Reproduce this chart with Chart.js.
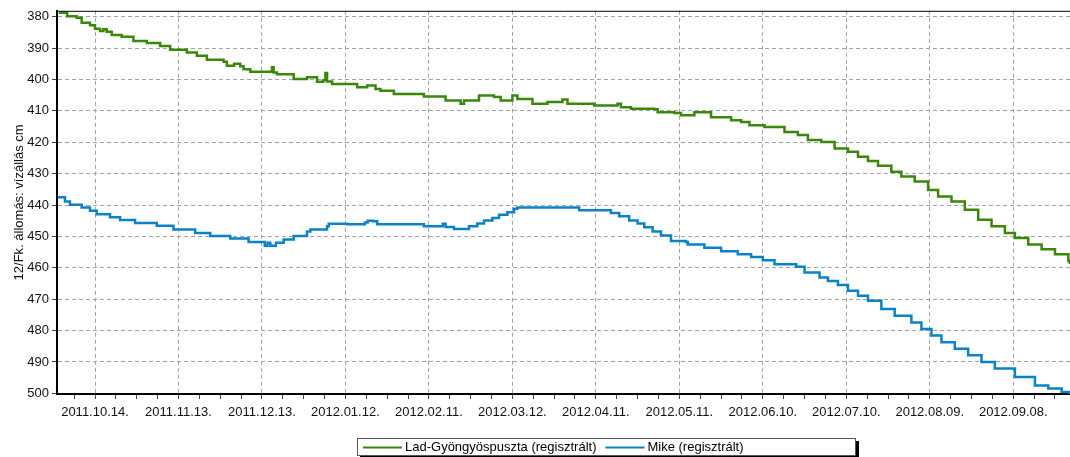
<!DOCTYPE html>
<html>
<head>
<meta charset="utf-8">
<script src="https://cdn.jsdelivr.net/npm/chart.js@4/dist/chart.umd.min.js"></script>
<style>
  html, body { margin: 0; padding: 0; background: #fff; }
  #wrap { position: relative; width: 1070px; height: 457px; }
</style>
</head>
<body>
<div id="wrap"><canvas id="c"></canvas></div>
<script>
// ---- DATA (x = days since 2011.10.14., y = water level in cm) ----
const seriesNames = ['Lad-Gyöngyöspuszta (regisztrált)', 'Mike (regisztrált)'];

const ladDays = [-13, -10, -6.6, -4.8, -1.8, 0, 1.8, 3, 4.2, 6, 9.6, 13.8, 18.6, 23.4, 27, 33, 36.6, 40.2, 46.2, 47.4, 50, 52.2, 53.4, 55.8, 63, 63.6, 64.2, 65.4, 67.8, 71.4, 76.2, 79.8, 82, 82.8, 83.4, 85.2, 90.6, 94.2, 97.8, 100.8, 102.6, 107.4, 117, 118.2, 124.2, 126, 131.4, 132.6, 138, 143.4, 145.8, 150, 151.8, 157.2, 162.6, 168, 169.8, 177, 179.4, 184.2, 187.8, 189, 192.6, 201, 202.2, 208.2, 210.6, 215.4, 221.4, 228.6, 232.2, 235.2, 240.6, 243, 247.8, 252.6, 256.2, 261, 265.8, 270.6, 274.2, 277.8, 281.4, 286.2, 289.8, 294.6, 299.4, 303, 307.8, 312.6, 317.4, 322.2, 327, 330.6, 335.4, 340.2, 345, 349.8, 350.3];
const ladLevels = [378.7, 379.8, 380.3, 381.9, 382.7, 383.8, 384.5, 384, 384.8, 385.8, 386.4, 387.7, 388.4, 389.3, 390.5, 391.4, 392.4, 393.7, 394.3, 395.6, 395, 395.8, 396.7, 397.5, 397.5, 396.1, 397.8, 398.3, 398.3, 399.8, 399.3, 400.7, 400.2, 397.9, 400.6, 401.4, 401.4, 402.5, 401.9, 403, 403.6, 404.6, 404.6, 405.4, 405.4, 406.7, 407.7, 406.7, 405.1, 405.6, 406.7, 405.1, 406.2, 407.7, 407.2, 406.4, 407.7, 407.7, 408.3, 408.3, 407.7, 408.8, 409.3, 409.5, 410.4, 410.7, 411.4, 410.4, 412, 413, 413.5, 414.6, 415.1, 415.1, 416.7, 417.7, 419.3, 419.9, 422, 423, 424.6, 426, 427.5, 429.4, 430.9, 432.5, 435.2, 437.3, 438.9, 441.5, 444.7, 446.8, 448.9, 450.5, 452.6, 454.1, 455.7, 457.8, 458.8];

const mikeDays = [-13.4, -10.8, -9, -4.8, -1.8, 0.6, 5.4, 9, 14.4, 22.2, 28.2, 36, 41.4, 48.6, 55.2, 60, 61, 62, 63, 65, 67.8, 71.4, 76.2, 77.4, 83.4, 84, 90.6, 97, 98, 100, 101.4, 117, 118.2, 124.2, 125, 126, 129, 133.2, 134.4, 137.4, 139.8, 142.8, 145.2, 148.2, 150.6, 151.8, 173.4, 174, 184.2, 185.4, 188.4, 192, 195, 197.4, 200.4, 203.4, 207, 212.4, 213, 219, 225, 231, 235.8, 240, 244.2, 252, 255, 260.4, 263.4, 267, 270.6, 274.2, 277.8, 282.6, 287.4, 293.4, 297, 300.6, 304.2, 309, 313.8, 318.6, 323.4, 330.6, 337.8, 342.6, 347.4, 350.3];
const mikeLevels = [437.5, 438.9, 439.9, 440.8, 441.8, 442.9, 443.9, 444.8, 445.7, 446.6, 447.8, 448.9, 449.9, 450.7, 451.8, 451.8, 453, 452, 453, 452, 451, 449.9, 448.4, 447.8, 446.8, 446, 446.1, 445.6, 445, 445.2, 446.1, 446.1, 446.8, 446.8, 446, 447, 447.6, 447.6, 446.8, 445.9, 444.9, 444.1, 443.1, 442.3, 441.2, 440.8, 440.8, 441.7, 441.7, 442.5, 443.6, 444.9, 445.9, 447.1, 448.4, 449.7, 451.5, 451.8, 452.6, 453.6, 454.7, 455.7, 456.6, 457.6, 458.9, 459.7, 461.5, 463.1, 464.2, 465.5, 467.3, 468.9, 470.5, 473.1, 475.3, 477.4, 479.5, 481.6, 483.7, 485.8, 487.9, 490, 492.1, 494.8, 497.5, 498.5, 499.6, 500.2];

const xTickDays = [0, 30, 60, 90, 120, 150, 180, 210, 240, 270, 300, 330];
const xTickLabels = ['2011.10.14.', '2011.11.13.', '2011.12.13.', '2012.01.12.', '2012.02.11.', '2012.03.12.', '2012.04.11.', '2012.05.11.', '2012.06.10.', '2012.07.10.', '2012.08.09.', '2012.09.08.'];
const yTickValues = [380, 390, 400, 410, 420, 430, 440, 450, 460, 470, 480, 490, 500];
const yAxisTitle = '12/Fk. állomás: vízállás cm';

// ---- helpers ----
const toPoints = (xs, ys) => xs.map((x, i) => ({ x: x, y: ys[i] }));
const xMinorStep = 7.5, yMinorStep = 5;
const FONT = '"Liberation Sans", Arial, sans-serif';

const frameAndLegend = {
  id: 'frameAndLegend',
  afterDraw(chart) {
    const ctx = chart.ctx, a = chart.chartArea;
    ctx.save();
    // top frame line
    ctx.strokeStyle = '#000';
    ctx.lineWidth = 1;
    ctx.beginPath();
    ctx.moveTo(a.left, a.top + 0.5);
    ctx.lineTo(a.right, a.top + 0.5);
    ctx.stroke();
    // legend box with shadow
    const bx = 357, by = 438, bw = 499, bh = 18;
    ctx.fillStyle = '#000';
    ctx.fillRect(bx + 3, by + 3, bw, bh);
    ctx.fillStyle = '#fff';
    ctx.fillRect(bx, by, bw, bh);
    ctx.strokeStyle = '#555';
    ctx.lineWidth = 1;
    ctx.strokeRect(bx + 0.5, by + 0.5, bw - 1, bh - 1);
    ctx.font = '13px ' + FONT;
    ctx.textBaseline = 'middle';
    let x = bx + 6;
    const cy = by + bh / 2 + 0.5;
    chart.data.datasets.forEach(ds => {
      ctx.strokeStyle = ds.borderColor;
      ctx.lineWidth = 2;
      ctx.beginPath();
      ctx.moveTo(x, cy);
      ctx.lineTo(x + 39, cy);
      ctx.stroke();
      x += 42;
      ctx.fillStyle = '#000';
      ctx.fillText(ds.label, x, cy);
      x += ctx.measureText(ds.label).width + 9;
    });
    ctx.restore();
  }
};

Chart.defaults.font.family = FONT;
Chart.defaults.font.size = 13;
Chart.defaults.color = '#222';

new Chart(document.getElementById('c'), {
  type: 'line',
  data: {
    datasets: [
      { label: seriesNames[0], data: toPoints(ladDays, ladLevels), borderColor: '#3a870a', borderWidth: 2.5, pointRadius: 0, stepped: 'before', fill: false },
      { label: seriesNames[1], data: toPoints(mikeDays, mikeLevels), borderColor: '#0b82c6', borderWidth: 2.5, pointRadius: 0, stepped: 'before', fill: false }
    ]
  },
  options: {
    responsive: true,
    maintainAspectRatio: false,
    animation: false,
    devicePixelRatio: 1,
    layout: { padding: { top: 8, left: 0, right: 0, bottom: 0 } },
    plugins: { legend: { display: false }, tooltip: { enabled: false } },
    scales: {
      x: {
        type: 'linear',
        min: -13.66,
        max: 350.4,
        afterBuildTicks(scale) {
          const t = [];
          for (let v = -7.5; v <= 350; v += xMinorStep) t.push({ value: v });
          scale.ticks = t;
        },
        afterFit(scale) { scale.height = 63; },
        ticks: {
          autoSkip: false, maxRotation: 0, minRotation: 0, padding: 6, color: '#111',
          font: { size: 13 },
          callback(v) { const i = xTickDays.indexOf(v); return i >= 0 ? xTickLabels[i] : ''; }
        },
        grid: {
          color: c => (c.tick && xTickDays.includes(c.tick.value)) ? '#a3a3a3' : 'rgba(0,0,0,0)',
          lineWidth: 1, tickColor: '#444', tickLength: 5, drawTicks: true
        },
        border: { display: true, color: '#000', width: 2, dash: [4, 3] }
      },
      y: {
        type: 'linear',
        reverse: true,
        min: 378.1,
        max: 500.22,
        afterBuildTicks(scale) {
          const t = [];
          for (let v = 380; v <= 500; v += yMinorStep) t.push({ value: v });
          scale.ticks = t;
        },
        afterFit(scale) { scale.width = 57; },
        ticks: {
          padding: 3, color: '#111',
          font: { size: 13 },
          callback(v) { return yTickValues.includes(v) ? String(v) : ''; }
        },
        grid: {
          color: c => (c.tick && yTickValues.includes(c.tick.value)) ? '#a3a3a3' : 'rgba(0,0,0,0)',
          lineWidth: 1, tickColor: '#444', tickLength: 5, drawTicks: true
        },
        border: { display: true, color: '#000', width: 2, dash: [4, 3] },
        title: { display: true, text: yAxisTitle, color: '#111', font: { size: 13 }, padding: { top: 12, bottom: 0 } }
      }
    }
  },
  plugins: [frameAndLegend]
});
</script>
</body>
</html>
